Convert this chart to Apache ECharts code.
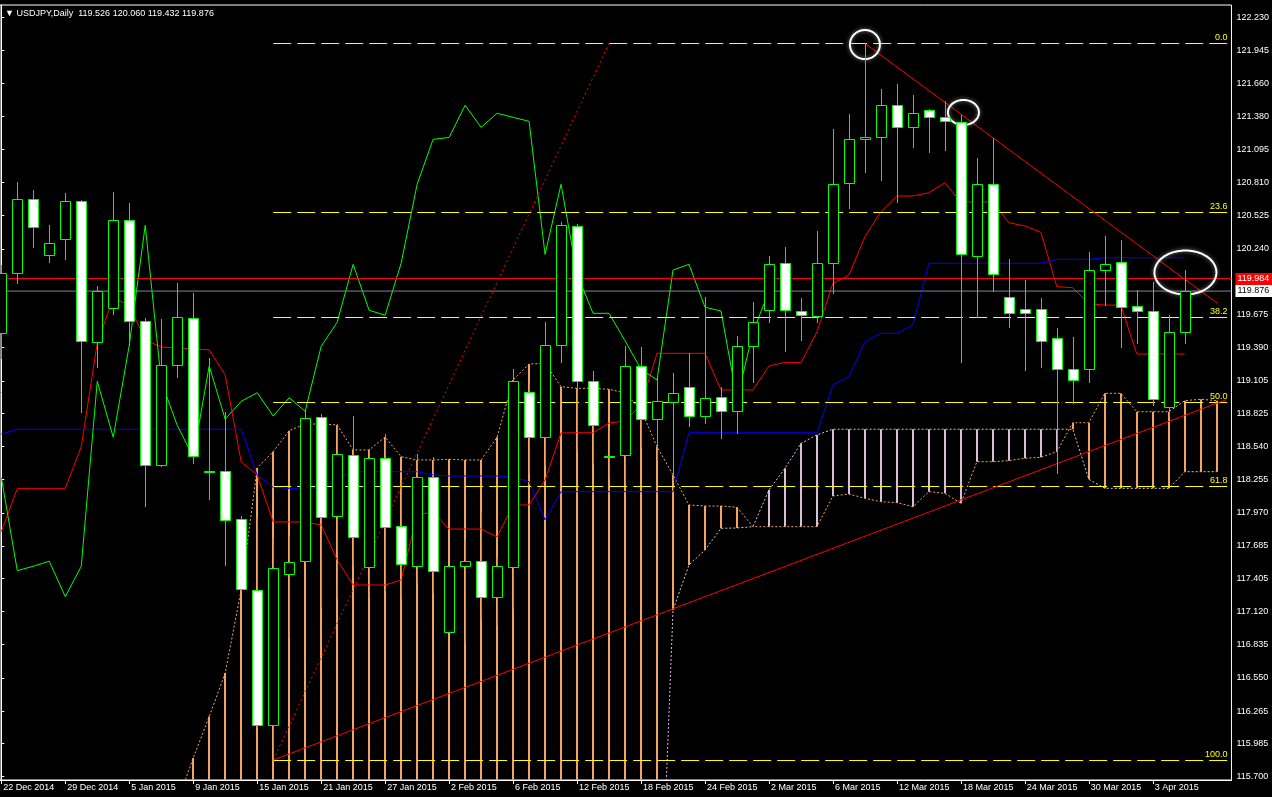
<!DOCTYPE html>
<html><head><meta charset="utf-8">
<script src="https://cdn.jsdelivr.net/npm/echarts@6/dist/echarts.min.js"></script>
<style>html,body{margin:0;padding:0;background:#000;}#c{width:1272px;height:797px;}</style>
</head><body><div id="c"></div>
<script>
// ---------------- DATA ----------------
const dates = ['22 Dec 2014','23 Dec 2014','24 Dec 2014','26 Dec 2014','29 Dec 2014','30 Dec 2014','31 Dec 2014','2 Jan 2015',
'5 Jan 2015','6 Jan 2015','7 Jan 2015','8 Jan 2015','9 Jan 2015','12 Jan 2015','13 Jan 2015','14 Jan 2015',
'15 Jan 2015','16 Jan 2015','19 Jan 2015','20 Jan 2015','21 Jan 2015','22 Jan 2015','23 Jan 2015','26 Jan 2015',
'27 Jan 2015','28 Jan 2015','29 Jan 2015','30 Jan 2015','2 Feb 2015','3 Feb 2015','4 Feb 2015','5 Feb 2015',
'6 Feb 2015','9 Feb 2015','10 Feb 2015','11 Feb 2015','12 Feb 2015','13 Feb 2015','16 Feb 2015','17 Feb 2015',
'18 Feb 2015','19 Feb 2015','20 Feb 2015','23 Feb 2015','24 Feb 2015','25 Feb 2015','26 Feb 2015','27 Feb 2015',
'2 Mar 2015','3 Mar 2015','4 Mar 2015','5 Mar 2015','6 Mar 2015','9 Mar 2015','10 Mar 2015','11 Mar 2015',
'12 Mar 2015','13 Mar 2015','16 Mar 2015','17 Mar 2015','18 Mar 2015','19 Mar 2015','20 Mar 2015','23 Mar 2015',
'24 Mar 2015','25 Mar 2015','26 Mar 2015','27 Mar 2015','30 Mar 2015','31 Mar 2015','1 Apr 2015','2 Apr 2015',
'3 Apr 2015','6 Apr 2015','7 Apr 2015','8 Apr 2015','9 Apr 2015'];

const opens = [119.513,120.029,120.665,120.184,120.327,120.648,119.438,119.728,120.485,119.616,
118.378,119.238,119.642,118.329,118.327,117.914,117.303,116.143,117.441,117.553,
118.791,117.945,118.464,117.501,118.438,117.854,117.515,118.275,116.947,117.510,
117.553,117.248,117.506,119.006,118.619,119.410,120.433,119.100,118.462,118.464,
119.232,118.774,118.920,119.054,118.802,118.963,118.842,119.401,119.711,120.115,
119.707,119.662,120.115,120.803,121.188,121.198,121.474,121.284,121.433,121.370,
121.333,120.180,120.794,119.823,119.720,119.720,119.470,119.204,119.204,120.057,
120.124,119.745,119.707,118.877,119.526];
const highs = [120.100,120.811,120.745,120.444,120.717,120.659,119.920,120.728,120.634,119.642,
119.636,119.943,119.862,119.301,118.839,117.942,117.936,117.756,117.770,118.854,
118.819,118.733,118.802,118.516,118.647,118.252,118.475,118.447,117.512,117.736,
117.979,117.592,119.206,119.083,119.608,120.470,120.453,119.189,118.707,119.404,
119.398,119.140,119.169,119.341,119.823,119.049,119.490,119.780,120.178,120.258,
119.814,120.390,121.270,121.399,122.006,121.611,121.657,121.562,121.442,121.511,
121.390,121.018,121.190,120.149,119.971,119.814,119.556,119.479,120.210,120.350,
120.315,119.885,119.957,119.670,120.060];
const lows = [119.301,119.943,120.258,120.129,120.155,118.839,119.226,119.679,119.412,118.028,
118.372,119.140,118.400,118.088,117.521,117.306,116.128,115.844,116.904,117.547,
117.162,117.235,117.521,117.248,117.306,117.235,117.377,117.278,116.945,116.861,
117.054,117.005,117.149,118.309,118.381,119.269,118.510,118.395,118.269,118.223,
118.538,118.424,118.252,118.716,118.744,118.610,118.658,119.097,119.613,119.363,
119.456,119.613,119.857,120.593,120.903,120.831,120.645,121.118,121.075,121.089,
119.269,119.656,119.879,119.570,119.197,119.221,118.315,118.911,119.097,119.756,
119.398,119.427,118.897,118.796,119.432];
const closes = [120.029,120.665,120.425,120.287,120.648,119.449,119.874,120.485,119.616,118.378,
119.238,119.651,118.458,118.320,117.905,117.312,116.143,117.492,117.544,118.782,
117.936,118.473,117.764,118.438,117.850,117.527,118.275,117.472,117.510,117.553,
117.248,117.510,119.100,118.619,119.410,120.442,119.100,118.722,118.449,119.232,
118.774,118.928,119.002,118.802,118.959,118.842,119.401,119.608,120.106,119.711,
119.668,120.115,120.794,121.181,121.197,121.474,121.284,121.405,121.370,121.336,
120.192,120.794,120.020,119.685,119.685,119.449,119.204,119.112,120.057,120.106,
119.737,119.705,118.946,119.522,119.876];

const tenkan = [117.807,118.180,118.180,118.180,118.180,118.538,119.430,119.817,119.756,119.456,
119.395,119.387,119.378,119.370,119.155,118.407,118.295,117.891,117.891,117.891,
117.865,117.564,117.349,117.349,117.349,117.392,117.951,117.977,117.830,117.830,
117.830,117.762,118.037,118.037,118.252,118.656,118.658,118.658,118.742,118.759,
118.897,119.341,119.341,119.341,119.341,119.026,119.026,119.026,119.232,119.264,
119.260,119.527,119.943,120.014,120.344,120.559,120.694,120.694,120.722,120.808,
120.642,120.642,120.642,120.464,120.436,120.382,119.914,119.905,119.765,119.756,
119.756,119.335,119.335,119.335,119.335];
const kijun = [118.647,118.688,118.688,118.688,118.688,118.688,118.688,118.688,118.688,118.688,
118.688,118.688,118.688,118.688,118.688,118.688,118.295,118.189,118.180,118.180,
118.183,118.260,118.323,118.323,118.323,118.323,118.323,118.295,118.286,118.286,
118.286,118.286,118.278,118.237,117.908,118.151,118.151,118.151,118.151,118.151,
118.151,118.151,118.151,118.658,118.658,118.658,118.658,118.658,118.658,118.658,
118.658,118.658,119.069,119.140,119.441,119.513,119.513,119.585,120.115,120.115,
120.115,120.115,120.115,120.115,120.115,120.115,120.149,120.149,120.149,120.163,
120.163,120.163,120.163,120.163,120.163];
// lagging span, plotted from bar 0 (values as read)
const chikou = [118.275,117.472,117.510,117.553,117.248,117.510,119.100,118.619,119.410,120.442,
119.100,118.722,118.449,119.232,118.774,118.928,119.002,118.802,118.959,118.842,
119.401,119.608,120.106,119.711,119.668,120.115,120.794,121.181,121.197,121.474,
121.284,121.405,121.370,121.336,120.192,120.794,120.020,119.685,119.685,119.449,
119.204,119.112,120.057,120.106,119.737,119.705,118.946,119.522,119.876];
const spanA = [114.60,114.62,114.64,114.66,114.68,114.70,114.75,114.85,114.95,115.10,
115.25,115.48,115.861,116.217,116.592,117.306,118.355,118.495,118.676,118.733,
118.733,118.725,118.510,118.510,118.621,118.452,118.424,118.424,118.430,118.424,
118.424,118.619,119.112,119.249,119.255,119.054,119.040,119.040,119.032,118.999,
118.854,118.538,118.295,118.037,118.028,118.028,118.017,117.850,117.850,117.850,
117.850,117.850,118.114,118.131,118.094,118.065,118.057,118.022,118.151,118.137,
118.051,118.409,118.409,118.418,118.438,118.447,118.495,118.744,118.744,118.997,
118.997,118.839,118.839,118.839,118.934,118.946,118.934];
const spanB = [113.60,113.60,113.60,113.60,113.60,113.60,113.60,113.60,113.60,113.60,
113.60,113.60,113.60,113.60,113.60,113.60,113.60,113.60,113.60,113.60,
113.60,113.60,113.60,113.60,113.60,113.60,113.60,113.60,113.60,113.60,
113.60,113.60,113.60,113.60,113.60,113.60,113.60,113.60,113.60,113.60,
113.60,113.60,117.134,117.521,117.650,117.836,117.839,117.850,118.166,118.352,
118.567,118.639,118.688,118.688,118.688,118.688,118.688,118.688,118.688,118.688,
118.688,118.688,118.688,118.688,118.688,118.688,118.688,118.688,118.258,118.180,
118.180,118.180,118.180,118.180,118.323,118.323,118.323];

const yTickLabels = ['122.230','121.945','121.660','121.380','121.095','120.810','120.525','120.240',
'119.960','119.675','119.390','119.105','118.825','118.540','118.255','117.970','117.685','117.405',
'117.120','116.835','116.550','116.265','115.985','115.700'];
const xTickBars = [0,4,8,12,16,20,24,28,32,36,40,44,48,52,56,60,64,68,72];

const fibLevels = [0.0, 23.6, 38.2, 50.0, 61.8, 100.0];
const fibHigh = 122.006, fibLow = 115.844;
const fibAnchors = [[17, 115.844], [38, 122.006]];
const trendUp = [[17, 115.844], [76.6, 118.943]];
const trendDown = [[54, 122.006], [76.05, 119.770]];
const ellipseCenters = [[54, 121.996], [60.16, 121.412], [74.04, 120.036]];
const askPrice = 119.984, bidPrice = 119.876;
const symbolTitle = 'USDJPY,Daily';

// ---------------- LAYOUT / STYLE ----------------
const FONT = 'Liberation Sans, Arial, sans-serif';
const FS = 9;
const X_MIN = -0.08125, X_MAX = 76.919, Y_MIN = 115.672, Y_MAX = 122.336;
const FIB_END_BAR = 76.67;
const ellipseRadii = [[15, 14.5], [15.5, 12.5], [31, 22]];
const LIME = '#00ff00', ORANGE = '#F4A460', THISTLE = '#D8BFD8';

const chart = echarts.init(document.getElementById('c'), null, {renderer: 'canvas', width: 1272, height: 797});

const idxPairs = arr => arr.map((v, i) => [i, v]);

function candleItem(params, api) {
  const i = api.value(0), o = api.value(1), h = api.value(2), l = api.value(3), c = api.value(4);
  const pO = api.coord([i, o]), pC = api.coord([i, c]), pH = api.coord([i, h]), pL = api.coord([i, l]);
  const x = Math.round(pO[0]);
  const top = Math.round(Math.min(pO[1], pC[1])), bot = Math.round(Math.max(pO[1], pC[1]));
  const bear = c < o;
  return {type: 'group', children: [
    {type: 'line', shape: {x1: x + 0.5, y1: Math.round(pH[1]), x2: x + 0.5, y2: Math.round(pL[1]) + 1},
     style: {stroke: LIME, lineWidth: 1}},
    {type: 'rect', shape: {x: x - 4.5, y: top + 0.5, width: 10, height: Math.max(bot - top, 1)},
     style: {fill: bear ? '#ffffff' : '#000000', stroke: LIME, lineWidth: 1}}
  ]};
}

function cloudItem(params, api) {
  const i = api.value(0), a = api.value(1), b = api.value(2);
  const pa = api.coord([i, a]), pb = api.coord([i, b]);
  const x = Math.round(pa[0]);
  return {type: 'line', shape: {x1: x, y1: pa[1], x2: x, y2: pb[1]},
    style: {stroke: a >= b ? ORANGE : THISTLE, lineWidth: 2}};
}

function fibItem(params, api) {
  const price = api.value(1), lvl = api.value(2);
  const p1 = api.coord([fibAnchors[0][0], price]);
  const p2 = api.coord([FIB_END_BAR, price]);
  const y = Math.round(p1[1]) + 0.5;
  return {type: 'group', children: [
    {type: 'line', shape: {x1: p1[0], y1: y, x2: p2[0], y2: y},
     style: {stroke: '#ffff00', lineWidth: 1, lineDash: [18, 6]}},
    {type: 'text', x: p2[0], y: y - 1,
     style: {text: lvl.toFixed(1), fill: '#ffff00', font: FS + 'px ' + FONT, align: 'right', verticalAlign: 'bottom'}}
  ]};
}

function ellipseItem(params, api) {
  const k = params.dataIndex;
  const p = api.coord([api.value(0), api.value(1)]);
  const rx = ellipseRadii[k][0], ry = ellipseRadii[k][1];
  const pts = [];
  for (let t = 0; t < 96; t++) {
    const a = t / 96 * Math.PI * 2;
    pts.push([p[0] + rx * Math.cos(a), p[1] + ry * Math.sin(a)]);
  }
  return {type: 'polygon', shape: {points: pts},
    style: {fill: 'none', stroke: '#ffffff', lineWidth: 2, shadowBlur: 4, shadowColor: 'rgba(200,200,200,0.7)'}};
}

function priceLabelItem(params, api) {
  const v = api.value(1), kind = api.value(2);
  const p = api.coord([X_MAX, v]);
  const y = Math.round(p[1]);
  const red = kind === 0;
  return {type: 'group', children: [
    {type: 'rect', shape: {x: p[0] + 4, y: y - 6, width: 40, height: 12},
     style: {fill: red ? '#ff0000' : '#ffffff'}},
    {type: 'text', x: p[0] + 6, y: y,
     style: {text: v.toFixed(3), fill: red ? '#ffffff' : '#000000', font: FS + 'px ' + FONT, verticalAlign: 'middle'}}
  ]};
}

const lastI = closes.length - 1;
const titleText = '\u25BC ' + symbolTitle + '  ' + opens[lastI].toFixed(3) + ' ' + highs[lastI].toFixed(3) + ' ' +
  lows[lastI].toFixed(3) + ' ' + closes[lastI].toFixed(3);

const lineSeries = (data, color, extra) => Object.assign({
  type: 'line', data: data, showSymbol: false, symbol: 'none', silent: true, clip: true,
  lineStyle: {color: color, width: 1}, z: 3
}, extra || {});

const option = {
  animation: false,
  backgroundColor: '#000000',
  grid: {left: 0, right: 40, top: 5, bottom: 17, show: true, borderColor: '#ffffff', borderWidth: 1, backgroundColor: '#000000'},
  xAxis: {
    type: 'value', min: X_MIN, max: X_MAX,
    splitLine: {show: false},
    axisLine: {show: true, lineStyle: {color: '#ffffff'}},
    axisTick: {show: true, customValues: xTickBars, length: 4, lineStyle: {color: '#ffffff'}},
    axisLabel: {customValues: xTickBars, formatter: v => dates[Math.round(v)], color: '#ffffff',
      fontSize: FS, fontFamily: FONT, align: 'left', margin: 3, padding: [0, 0, 0, 2]}
  },
  yAxis: {
    type: 'value', position: 'right', min: Y_MIN, max: Y_MAX, scale: true,
    splitLine: {show: false},
    axisLine: {show: true, lineStyle: {color: '#ffffff'}},
    axisTick: {show: true, customValues: yTickLabels.map(Number), length: 3, lineStyle: {color: '#ffffff'}},
    axisLabel: {customValues: yTickLabels.map(Number), formatter: v => v.toFixed(3), color: '#ffffff',
      fontSize: FS, fontFamily: FONT, margin: 5}
  },
  graphic: [{type: 'text', left: 5, top: 9, style: {text: titleText, fill: '#ffffff', font: FS + 'px ' + FONT}}],
  series: [
    {type: 'custom', name: 'cloud', clip: true, z: 1, silent: true,
     data: spanA.map((a, i) => [i, a, spanB[i]]), encode: {x: 0, y: [1, 2]}, renderItem: cloudItem},
    lineSeries(idxPairs(spanA), ORANGE, {lineStyle: {color: ORANGE, width: 1, type: [2, 2]}, z: 2}),
    lineSeries(idxPairs(spanB), THISTLE, {lineStyle: {color: THISTLE, width: 1, type: [2, 2]}, z: 2}),
    lineSeries(idxPairs(tenkan), '#ff0000'),
    lineSeries(idxPairs(kijun), '#0000ff'),
    lineSeries(idxPairs(chikou), LIME),
    {type: 'custom', name: 'fib', clip: true, z: 4, silent: true,
     data: fibLevels.map(l => [fibAnchors[0][0], fibHigh - l / 100 * (fibHigh - fibLow), l]),
     encode: {x: 0, y: 1}, renderItem: fibItem},
    lineSeries(fibAnchors, '#ff0000', {lineStyle: {color: '#ff0000', width: 1, type: [2, 3]}, z: 4}),
    lineSeries(trendUp, '#ff0000', {z: 4}),
    lineSeries(trendDown, '#ff0000', {z: 4}),
    lineSeries([[X_MIN, askPrice], [X_MAX, askPrice]], '#ff0000', {z: 4}),
    lineSeries([[X_MIN, bidPrice], [X_MAX, bidPrice]], '#778899', {z: 4}),
    {type: 'custom', name: 'ellipses', clip: true, z: 5, silent: true,
     data: ellipseCenters, encode: {x: 0, y: 1}, renderItem: ellipseItem},
    {type: 'custom', name: 'candles', clip: true, z: 6, silent: true,
     data: opens.map((o, i) => [i, o, highs[i], lows[i], closes[i]]), encode: {x: 0, y: [1, 2, 3, 4]},
     renderItem: candleItem},
    {type: 'custom', name: 'priceLabels', clip: false, z: 10, silent: true,
     data: [[X_MAX, askPrice, 0], [X_MAX, bidPrice, 1]], encode: {x: 0, y: 1}, renderItem: priceLabelItem}
  ]
};
chart.setOption(option);
</script></body></html>
